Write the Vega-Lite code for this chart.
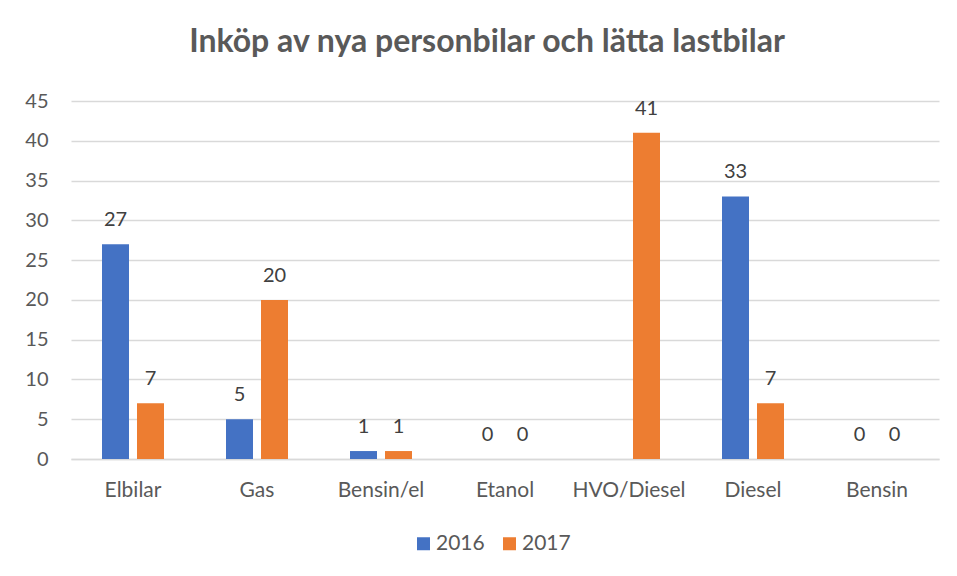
{
  "$schema": "https://vega.github.io/schema/vega-lite/v6.json",
  "width": 868,
  "height": 358,
  "autosize": {"type": "none"},
  "padding": {"left": 71, "top": 101, "right": 18, "bottom": 117},
  "background": "white",
  "config": {"view": {"stroke": null}},
  "title": {
    "text": "Inköp av nya personbilar och lätta lastbilar",
    "font": "Lato",
    "fontSize": 32,
    "fontWeight": "bold",
    "color": "#595959",
    "anchor": "middle",
    "offset": 32,
    "dx": -18
  },
  "data": {
    "values": [
      {"kategori": "Elbilar", "år": "2016", "antal": 27},
      {"kategori": "Elbilar", "år": "2017", "antal": 7},
      {"kategori": "Gas", "år": "2016", "antal": 5},
      {"kategori": "Gas", "år": "2017", "antal": 20},
      {"kategori": "Bensin/el", "år": "2016", "antal": 1},
      {"kategori": "Bensin/el", "år": "2017", "antal": 1},
      {"kategori": "Etanol", "år": "2016", "antal": 0},
      {"kategori": "Etanol", "år": "2017", "antal": 0},
      {"kategori": "HVO/Diesel", "år": "2017", "antal": 41},
      {"kategori": "Diesel", "år": "2016", "antal": 33},
      {"kategori": "Diesel", "år": "2017", "antal": 7},
      {"kategori": "Bensin", "år": "2016", "antal": 0},
      {"kategori": "Bensin", "år": "2017", "antal": 0}
    ]
  },
  "encoding": {
    "x": {
      "field": "kategori",
      "type": "nominal",
      "sort": ["Elbilar", "Gas", "Bensin/el", "Etanol", "HVO/Diesel", "Diesel", "Bensin"],
      "scale": {"paddingInner": 0.5, "paddingOuter": 0.25},
      "axis": {
        "title": null,
        "labelAngle": 0,
        "labelFont": "Lato",
        "labelFontSize": 21,
        "labelColor": "#595959",
        "labelPadding": 20,
        "ticks": false,
        "domainColor": "#d9d9d9",
        "domainWidth": 1.5,
        "grid": false
      }
    },
    "xOffset": {
      "field": "år",
      "type": "nominal",
      "scale": {"paddingInner": 0.2286, "paddingOuter": 0}
    },
    "y": {
      "field": "antal",
      "type": "quantitative",
      "scale": {"domain": [0, 45]},
      "axis": {
        "title": null,
        "values": [0, 5, 10, 15, 20, 25, 30, 35, 40, 45],
        "labelFont": "Lato",
        "labelFontSize": 20,
        "labelColor": "#595959",
        "labelPadding": 23,
        "ticks": false,
        "domain": false,
        "gridColor": "#d9d9d9",
        "gridWidth": 1.5
      }
    }
  },
  "layer": [
    {
      "mark": {"type": "bar"},
      "encoding": {
        "color": {
          "field": "år",
          "type": "nominal",
          "scale": {"domain": ["2016", "2017"], "range": ["#4472C4", "#ED7D31"]},
          "legend": {
            "title": null,
            "orient": "none",
            "legendX": 342,
            "legendY": 432,
            "direction": "horizontal",
            "symbolType": "square",
            "symbolSize": 169,
            "symbolStrokeWidth": 0,
            "labelFont": "Lato",
            "labelFontSize": 21,
            "labelColor": "#595959",
            "columnPadding": 14,
            "labelOffset": 2
          }
        }
      }
    },
    {
      "mark": {
        "type": "text",
        "baseline": "alphabetic",
        "dy": -18,
        "font": "Lato",
        "fontSize": 20,
        "color": "#404040"
      },
      "encoding": {
        "text": {"field": "antal", "type": "quantitative"}
      }
    }
  ]
}
